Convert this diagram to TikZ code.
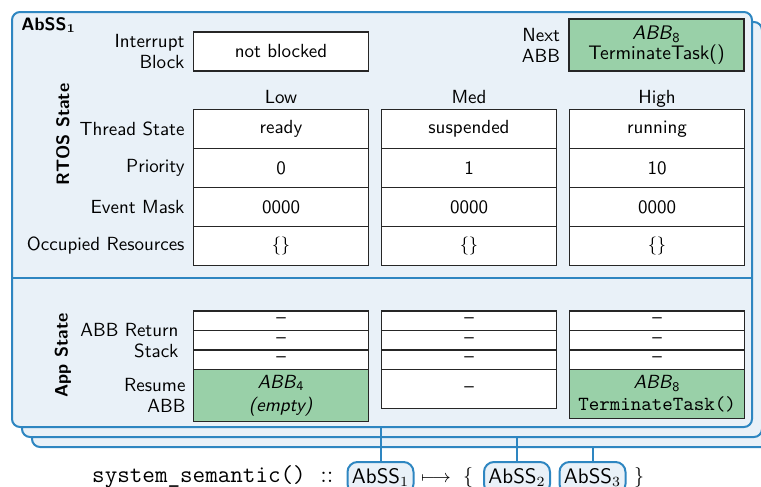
\documentclass[tikz,border=0pt]{standalone}
\usetikzlibrary{positioning}

\definecolor{frameblue}{RGB}{46,134,193}
\definecolor{panefill}{RGB}{233,241,248}
\definecolor{abbgreen}{RGB}{153,208,168}

\newcommand\diagsf{\sffamily\fontsize{9.5}{10.5}\selectfont}
\newcommand\diagbf{\sffamily\bfseries\fontsize{9}{10.5}\selectfont}
\newcommand\diagtt{\ttfamily\fontsize{10}{10.5}\selectfont}

\tikzset{
  pane/.style={draw=frameblue, fill=panefill, line width=1pt, rounded corners=4pt,
    minimum width=370pt, minimum height=207.5pt, inner sep=0pt},
  cell/.style={draw=black!85, fill=white, line width=0.6pt, minimum width=87.5pt,
    minimum height=19.5pt, inner sep=0pt, font=\diagsf, align=center},
  stackcell/.style={cell, minimum height=9.75pt},
  hot/.style={cell, fill=abbgreen},
  lbl/.style={font=\diagsf, align=right, anchor=east, inner sep=0pt},
  head/.style={font=\diagsf, anchor=base, inner sep=0pt},
  sect/.style={font=\diagbf, rotate=90, inner sep=0pt},
  tag/.style={draw=frameblue, fill=panefill, line width=1pt, rounded corners=5pt,
    font=\sffamily\fontsize{10.5}{12}\selectfont, minimum width=33pt, inner xsep=2pt,
    inner ysep=3pt, text height=7.5pt, text depth=2.5pt, anchor=base},
  link/.style={draw=frameblue, line width=1pt},
  formula/.style={anchor=base, inner sep=0pt, font=\fontsize{10}{12}\selectfont}
}

\begin{document}
\begin{tikzpicture}[x=0.5pt, y=-0.5pt]
\useasboundingbox (0,0) rectangle (761,487);

% stacked abstract system states, back to front
\node[pane] (pane3) at (402,239.5) {};
\node[pane] (pane2) at (392,229.5) {};
\node[pane] (pane1) at (382,219.5) {};
\draw[link] (pane1.west |- 0,278) -- (pane1.east |- 0,278);

\node[anchor=base west, inner sep=0pt, font=\diagbf] (title) at (21,31) {AbSS$_{\mathbf{1}}$};

% global fields
\node[cell] (irq) at (281,51.5) {not blocked};
\node[lbl] (irq-lbl) at ([xshift=-4pt]irq.west) {Interrupt\\Block};
\node[hot, minimum height=26pt, font=\sffamily\fontsize{9.8}{10.2}\selectfont] (next) at (656.5,45)
  {\textit{ABB}\textsubscript{8}\\TerminateTask()};
\node[lbl] (next-lbl) at ([xshift=-4pt]next.west) {Next\\ABB};

% RTOS state per task
\node[sect] (rtos) at (63,134.5) {RTOS State};
\foreach \c/\x/\hd/\ts/\pr in {low/281/Low/ready/0, med/469/Med/suspended/1, high/657/High/running/10} {
  \node[head] (hd-\c) at (\x,103) {\hd};
  \node[cell] (ts-\c) at (\x,129) {\ts};
  \node[cell] (pr-\c) at (\x,168) {\pr};
  \node[cell] (ev-\c) at (\x,207) {0000};
  \node[cell] (res-\c) at (\x,246) {$\{\}$};
  \node[stackcell] (st1-\c) at (\x,320.75) {--};
  \node[stackcell] (st2-\c) at (\x,340.25) {--};
  \node[stackcell] (st3-\c) at (\x,359.75) {--};
}
\node[lbl] (ts-lbl) at ([xshift=-4pt]ts-low.west) {Thread State};
\node[lbl] (pr-lbl) at ([xshift=-4pt]pr-low.west) {Priority};
\node[lbl] (ev-lbl) at ([xshift=-4pt]ev-low.west) {Event Mask};
\node[lbl] (res-lbl) at ([xshift=-4pt]res-low.west) {Occupied Resources};

% application state per task
\node[sect] (app) at (63,355.5) {App State};
\node[hot, minimum height=26pt, font=\diagsf\linespread{1.1}\selectfont] (resume-low) at (281,395.5)
  {\textit{ABB}\textsubscript{4}\\\textit{(empty)}};
\node[cell] (resume-med) at (469,389.25) {--};
\node[hot, minimum height=24.5pt, font=\diagsf\linespread{1.05}\selectfont] (resume-high) at (657,394)
  {\textit{ABB}\textsubscript{8}\\\diagtt TerminateTask()};
\node[lbl] (stack-lbl) at ([xshift=-7pt]st2-low.west) {ABB Return\\Stack};
\node[lbl] (resume-lbl) at ([xshift=-3.5pt]resume-low.west) {Resume\\ABB};

% transition signature
\node[formula, font=\ttfamily\fontsize{12.2}{14}\selectfont] (sig) at (199,482) {system\_semantic()};
\node[formula, font=\fontsize{11.5}{13}\selectfont] (dcolon) at (327,482) {$::$};
\node[tag] (t1) at (380.5,483) {AbSS$_1$};
\node[formula, font=\fontsize{9.5}{12}\selectfont] (maps) at (436,482) {$\longmapsto$};
\node[formula] (lbrace) at (468,482) {$\{$};
\node[tag] (t2) at (517,483) {AbSS$_2$};
\node[tag] (t3) at (592.5,483) {AbSS$_3$};
\node[formula] (rbrace) at (639,482) {$\}$};

\draw[link] (pane1.south -| t1.north) -- (t1.north);
\draw[link] (pane2.south -| t2.north) -- (t2.north);
\draw[link] (pane3.south -| t3.north) -- (t3.north);
\end{tikzpicture}
\end{document}
